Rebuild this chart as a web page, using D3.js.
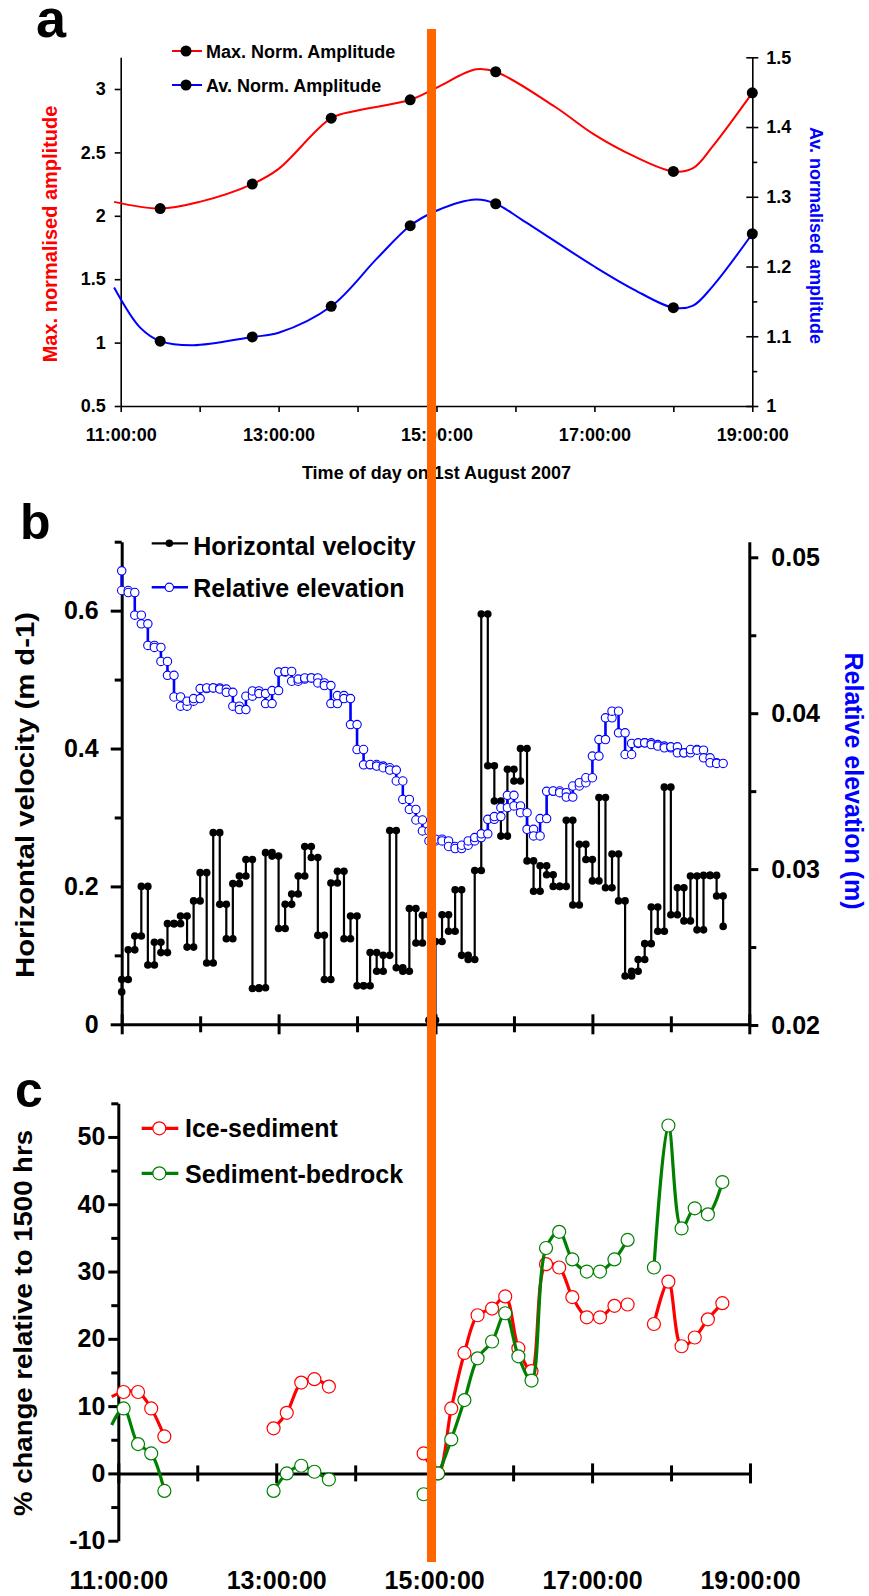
<!DOCTYPE html>
<html lang="en">
<head>
<meta charset="UTF-8">
<title>Amplitude, velocity and interface change - 1 August 2007</title>
<script src="https://cdn.jsdelivr.net/npm/d3@7/dist/d3.min.js"></script>
<style>
  body { margin: 0; background: #fff; }
  svg { display: block; }
  text { font-family: "Liberation Sans", Arial, Helvetica, sans-serif; font-weight: bold; }
</style>
</head>
<body>
<svg id="fig" width="869" height="1596"></svg>
<script>
// ---------- panel a : normalised amplitude ----------
// knots of the smoothed curves
let maxCurveTimes = ["10:55", "11:30", "12:00", "12:40", "13:00", "13:40", "14:00", "14:40", "15:00", "15:30", "15:45", "16:30", "17:00", "17:30", "18:00", "18:15", "18:30", "19:00"];
let maxCurve = [2.11, 2.057, 2.11, 2.25, 2.37, 2.77, 2.83, 2.915, 3.01, 3.155, 3.136, 2.86, 2.64, 2.47, 2.35, 2.376, 2.55, 2.97];
let avCurveTimes = ["10:55", "11:15", "11:30", "11:55", "12:40", "13:00", "13:40", "14:15", "14:40", "15:00", "15:30", "15:45", "16:05", "17:00", "17:30", "18:00", "18:15", "18:30", "19:00"];
let avCurve = [1.17, 1.112, 1.093, 1.087, 1.099, 1.105, 1.143, 1.212, 1.2585, 1.28, 1.296, 1.29, 1.267, 1.2, 1.167, 1.141, 1.144, 1.172, 1.247];
// sample dots
let dotTimes = ["11:30", "12:40", "13:40", "14:40", "15:45", "18:00", "19:00"];
let maxDots = [2.057, 2.25, 2.77, 2.915, 3.136, 2.35, 2.97];
let avDots = [1.093, 1.099, 1.143, 1.2585, 1.29, 1.141, 1.247];

// ---------- panel b : 5-minute GPS solutions from 11:00 ----------
let stepMinutes = 5;
let velStart = 0.047;
let velocity = [0.065, 0.108, 0.128, 0.2, 0.086, 0.119, 0.104, 0.146, 0.146, 0.157,
  0.112, 0.179, 0.22, 0.089, 0.278, 0.174, 0.124, 0.204, 0.215, 0.239,
  0.052, 0.053, 0.249, 0.244, 0.139, 0.174, 0.189, 0.215, 0.258, 0.242,
  0.129, 0.065, 0.205, 0.222, 0.124, 0.157, 0.056, 0.056, 0.104, 0.077,
  0.1, 0.281, 0.082, 0.077, 0.168, 0.118, 0.158, 0.006, 0.12, 0.159,
  0.135, 0.195, 0.1, 0.094, 0.223, 0.595, 0.375, 0.324, 0.273, 0.37,
  0.353, 0.4, 0.237, 0.193, 0.23, 0.217, 0.2, 0.2, 0.296, 0.173,
  0.261, 0.239, 0.208, 0.329, 0.198, 0.247, 0.179, 0.07, 0.077, 0.094,
  0.117, 0.17, 0.135, 0.344, 0.159, 0.198, 0.15, 0.215, 0.137, 0.216,
  0.216, 0.186];
let velEnd = 0.142;
let elevStart = 0.04913;
let elevation = [0.04787, 0.04774, 0.04629, 0.04573, 0.04435, 0.04422, 0.04332, 0.04243, 0.04104, 0.04045,
  0.04077, 0.04094, 0.04158, 0.04162, 0.04162, 0.04155, 0.04134, 0.04045, 0.04023, 0.04109,
  0.04143, 0.04126, 0.04062, 0.04145, 0.04264, 0.04268, 0.04205, 0.04219, 0.04226, 0.04226,
  0.04194, 0.04177, 0.04062, 0.04113, 0.04094, 0.03927, 0.03767, 0.03669, 0.03671, 0.03661,
  0.0365, 0.03635, 0.03565, 0.03447, 0.03383, 0.03315, 0.03245, 0.03181, 0.03192, 0.03181,
  0.03145, 0.03132, 0.03153, 0.03181, 0.03202, 0.03226, 0.03319, 0.03337, 0.03394, 0.03473,
  0.03405, 0.03362, 0.03255, 0.03213, 0.03324, 0.03499, 0.03501, 0.0349, 0.03462, 0.03533,
  0.03554, 0.03586, 0.03725, 0.03831, 0.0397, 0.04013, 0.03874, 0.03735, 0.03806, 0.0381,
  0.0381, 0.03799, 0.03789, 0.03778, 0.03784, 0.03746, 0.03746, 0.03767, 0.03763, 0.03714,
  0.03682, 0.03678];

// ---------- panel c : % change relative to 1500 hrs ----------
let cTimes = ["10:55", "11:04", "11:15", "11:25", "11:35", "12:15",
  "12:58", "13:08", "13:19", "13:29", "13:40", "14:15",
  "14:52", "15:03", "15:13", "15:23", "15:33", "15:44", "15:54", "16:04", "16:14",
  "16:25", "16:35", "16:45", "16:56", "17:06", "17:17", "17:27", "17:37",
  "17:47", "17:58", "18:08", "18:18", "18:28", "18:39"];
let iceSediment = [11.4, 12.1, 12.1, 9.65, 5.5, null,
  6.7, 9.0, 13.5, 14.0, 12.9, null,
  2.97, 0, 9.65, 17.9, 23.5, 24.5, 26.3, 18.6, 15.2,
  31.1, 30.6, 26.2, 23.2, 23.2, 24.9, 25.1, null,
  22.2, 28.5, 18.9, 20.2, 22.9, 25.3];
let sedimentBedrock = [7.2, 9.65, 4.36, 2.97, -2.6, null,
  -2.6, 0, 1.14, 0.25, -0.9, null,
  -3.1, 0, 5.05, 10.9, 17.1, 19.6, 23.8, 17.4, 13.8,
  33.5, 35.9, 31.8, 30.0, 30.0, 31.8, 34.7, null,
  30.6, 51.7, 36.4, 39.4, 38.5, 43.3];

let markerTime = "14:58";   // the orange reference line

// ---------- helpers ----------
function mins(s) {
    let p = s.split(':');
    return (+p[0] - 11) * 60 + (+p[1]);
}
let hourFmt = d => (11 + d / 60) + ':00:00';
let hours = d3.range(0, 481, 60);

function tidy(g, w) {
    g.attr('font-size', null).attr('font-family', null);
    g.selectAll('path, line').attr('stroke-width', w);
    return g;
}

let svg = d3.select('#fig');

// =====================================================================
// panel a
// =====================================================================
let xA = d3.scaleLinear().domain([0, 480]).range([120.7, 752.3]);
let yA = d3.scaleLinear().domain([0.5, 3.25]).range([406, 57.3]);
let yA2 = d3.scaleLinear().domain([1, 1.5]).range([406, 57.3]);

let gA = svg.append('g').style('font-size', '18px');

tidy(gA.append('g').attr('transform', `translate(${xA(0)},0)`)
    .call(d3.axisLeft(yA).tickValues([0.5, 1, 1.5, 2, 2.5, 3]).tickSize(6).tickSizeOuter(0)
        .tickPadding(9).tickFormat(d => d)), 1.6);

let rA = gA.append('g').attr('transform', `translate(${xA(480)},0)`);
rA.call(d3.axisRight(yA2).tickValues([1, 1.1, 1.2, 1.3, 1.4, 1.5]).tickSize(6).tickSizeOuter(0)
    .tickPadding(8).tickFormat(d => d));
rA.selectAll('.tick line').attr('x1', -6);
tidy(rA, 1.6);
tidy(gA.append('g').attr('transform', `translate(${xA(480)},0)`)
    .call(d3.axisRight(yA2).tickValues([1.05, 1.15, 1.25, 1.35, 1.45]).tickSize(5).tickFormat('')), 1.6)
    .select('.domain').remove();

tidy(gA.append('g').attr('transform', `translate(0,${yA(0.5)})`)
    .call(d3.axisBottom(xA).tickValues(hours).tickSize(6).tickSizeOuter(0).tickPadding(16)
        .tickFormat(d => d % 120 === 0 ? hourFmt(d) : '')), 1.6);

let smooth = d3.curveCatmullRom.alpha(0.5);
let lineMax = d3.line().x(d => xA(mins(d[0]))).y(d => yA(d[1])).curve(smooth);
let lineAv = d3.line().x(d => xA(mins(d[0]))).y(d => yA2(d[1])).curve(smooth);

gA.append('path').attr('d', lineMax(d3.zip(maxCurveTimes, maxCurve)))
    .attr('fill', 'none').attr('stroke', '#ff0000').attr('stroke-width', 2);
gA.append('path').attr('d', lineAv(d3.zip(avCurveTimes, avCurve)))
    .attr('fill', 'none').attr('stroke', '#0000ff').attr('stroke-width', 2);

gA.selectAll('.dmax').data(d3.zip(dotTimes, maxDots)).join('circle')
    .attr('cx', d => xA(mins(d[0]))).attr('cy', d => yA(d[1])).attr('r', 5.5).attr('fill', '#000');
gA.selectAll('.dav').data(d3.zip(dotTimes, avDots)).join('circle')
    .attr('cx', d => xA(mins(d[0]))).attr('cy', d => yA2(d[1])).attr('r', 5.5).attr('fill', '#000');

// legend a
[['Max. Norm. Amplitude', '#ff0000', 51], ['Av. Norm. Amplitude', '#0000ff', 85]].forEach(([t, c, y]) => {
    gA.append('line').attr('x1', 172).attr('x2', 202).attr('y1', y).attr('y2', y)
        .attr('stroke', c).attr('stroke-width', 2);
    gA.append('circle').attr('cx', 186).attr('cy', y).attr('r', 5.5).attr('fill', '#000');
    gA.append('text').attr('x', 206).attr('y', y + 6.5).text(t);
});

gA.append('text').attr('transform', 'translate(57,234) rotate(-90)').attr('text-anchor', 'middle')
    .style('font-size', '20px').attr('fill', '#ff0000').text('Max. normalised amplitude');
gA.append('text').attr('transform', 'translate(810,235.5) rotate(90)').attr('text-anchor', 'middle')
    .style('font-size', '18px').attr('fill', '#0000ff').text('Av. normalised amplitude');
gA.append('text').attr('x', xA(240)).attr('y', 479).attr('text-anchor', 'middle')
    .text('Time of day on 1st August 2007');
svg.append('text').attr('x', 36).attr('y', 37).style('font-size', '54px').text('a');

// =====================================================================
// panel b
// =====================================================================
let xB = d3.scaleLinear().domain([0, 480]).range([121.7, 749.3]);
let yB = d3.scaleLinear().domain([0, 0.7]).range([1024.3, 541.7]);
let yB2 = d3.scaleLinear().domain([0.02, 0.051]).range([1025, 541.7]);

let gB = svg.append('g').style('font-size', '25px');

tidy(gB.append('g').attr('transform', `translate(${xB(0)},0)`)
    .call(d3.axisLeft(yB).tickValues([0, 0.2, 0.4, 0.6]).tickSize(11).tickSizeOuter(0)
        .tickPadding(12).tickFormat(d => d)), 3);
tidy(gB.append('g').attr('transform', `translate(${xB(0)},0)`)
    .call(d3.axisLeft(yB).tickValues([0.1, 0.3, 0.5, 0.7]).tickSize(7).tickSizeOuter(0).tickFormat('')), 3)
    .select('.domain').remove();

tidy(gB.append('g').attr('transform', `translate(${xB(480)},0)`)
    .call(d3.axisRight(yB2).tickValues([0.02, 0.03, 0.04, 0.05]).tickSize(9).tickSizeOuter(0)
        .tickPadding(13).tickFormat(d => d)), 3);
tidy(gB.append('g').attr('transform', `translate(${xB(480)},0)`)
    .call(d3.axisRight(yB2).tickValues([0.025, 0.035, 0.045]).tickSize(7).tickSizeOuter(0).tickFormat('')), 3)
    .select('.domain').remove();

let bx = gB.append('g').attr('transform', `translate(0,${yB(0)})`)
    .call(d3.axisBottom(xB).tickValues(hours).tickSize(10).tickSizeOuter(0).tickFormat(''));
bx.selectAll('.tick line').attr('y1', d => d % 120 === 0 ? -10 : -8).attr('y2', d => d % 120 === 0 ? 10 : 8);
tidy(bx, 3);

// step series: each 5-min value is held over its interval, a dot at both ends
function stepPoints(start, vals, end) {
    let pts = [[0, start]];
    vals.forEach((v, i) => { pts.push([i * stepMinutes, v]); pts.push([(i + 1) * stepMinutes, v]); });
    if (end !== null) pts.push([vals.length * stepMinutes, end]);
    return pts;
}
let velPts = stepPoints(velStart, velocity, velEnd);
let elevPts = stepPoints(elevStart, elevation, null);

gB.append('path').attr('d', d3.line().x(d => xB(d[0])).y(d => yB(d[1]))(velPts))
    .attr('fill', 'none').attr('stroke', '#000').attr('stroke-width', 2.2);
gB.selectAll('.vdot').data(velPts).join('circle')
    .attr('cx', d => xB(d[0])).attr('cy', d => yB(d[1])).attr('r', 3.8).attr('fill', '#000');

gB.append('path').attr('d', d3.line().x(d => xB(d[0])).y(d => yB2(d[1]))(elevPts))
    .attr('fill', 'none').attr('stroke', '#0000ff').attr('stroke-width', 2.6);
gB.selectAll('.edot').data(elevPts).join('circle')
    .attr('cx', d => xB(d[0])).attr('cy', d => yB2(d[1])).attr('r', 4.2)
    .attr('fill', '#fff').attr('stroke', '#0000ff').attr('stroke-width', 1.1);

// legend b
gB.append('line').attr('x1', 151.7).attr('x2', 188).attr('y1', 543.3).attr('y2', 543.3)
    .attr('stroke', '#000').attr('stroke-width', 2.2);
gB.append('circle').attr('cx', 169.3).attr('cy', 543.3).attr('r', 3.8).attr('fill', '#000');
gB.append('text').attr('x', 193.3).attr('y', 555).text('Horizontal velocity');
gB.append('line').attr('x1', 151.7).attr('x2', 188).attr('y1', 587.3).attr('y2', 587.3)
    .attr('stroke', '#0000ff').attr('stroke-width', 2.6);
gB.append('circle').attr('cx', 169.3).attr('cy', 587.3).attr('r', 4.2)
    .attr('fill', '#fff').attr('stroke', '#0000ff').attr('stroke-width', 1.1);
gB.append('text').attr('x', 193.3).attr('y', 596.7).text('Relative elevation');

gB.append('text').attr('transform', 'translate(34,795) rotate(-90)').attr('text-anchor', 'middle')
    .style('font-size', '26px').attr('textLength', 366).attr('lengthAdjust', 'spacingAndGlyphs')
    .text('Horizontal velocity (m d-1)');
gB.append('text').attr('transform', 'translate(845,781) rotate(90)').attr('text-anchor', 'middle')
    .attr('fill', '#0000ff').text('Relative elevation (m)');
svg.append('text').attr('x', 20).attr('y', 539).style('font-size', '50px').text('b');

// =====================================================================
// panel c
// =====================================================================
let xC = d3.scaleLinear().domain([0, 480]).range([118.3, 750]);
let yC = d3.scaleLinear().domain([-10, 55]).range([1540.7, 1103.3]);

let gC = svg.append('g').style('font-size', '25px');

tidy(gC.append('g').attr('transform', `translate(${xC(0)},0)`)
    .call(d3.axisLeft(yC).tickValues(d3.range(-10, 51, 10)).tickSize(10).tickSizeOuter(0)
        .tickPadding(3).tickFormat(d => d)), 3);
tidy(gC.append('g').attr('transform', `translate(${xC(0)},0)`)
    .call(d3.axisLeft(yC).tickValues(d3.range(-5, 56, 10)).tickSize(7).tickSizeOuter(0).tickFormat('')), 3)
    .select('.domain').remove();

let cx0 = gC.append('g').attr('transform', `translate(0,${yC(0)})`)
    .call(d3.axisBottom(xC).tickValues(hours).tickSize(10).tickSizeOuter(0).tickFormat(''));
cx0.selectAll('.tick line').attr('y1', d => d % 120 === 0 ? -10 : -8).attr('y2', d => d % 120 === 0 ? 10 : 8);
tidy(cx0, 3);

let cLabels = gC.append('g').attr('transform', `translate(0,${yC(-10)})`)
    .call(d3.axisBottom(xC).tickValues(d3.range(0, 481, 120)).tickSize(0).tickPadding(31).tickFormat(hourFmt));
tidy(cLabels, 0).select('.domain').remove();

function drawC(vals, color) {
    let pts = d3.zip(cTimes.map(mins), vals);
    gC.append('path')
        .attr('d', d3.line().defined(d => d[1] !== null).x(d => xC(d[0])).y(d => yC(d[1]))
            .curve(d3.curveCatmullRom.alpha(0.5))(pts))
        .attr('fill', 'none').attr('stroke', color).attr('stroke-width', 3.2);
    gC.append('g').selectAll('circle').data(pts.filter(d => d[1] !== null && d[0] >= 0)).join('circle')
        .attr('cx', d => xC(d[0])).attr('cy', d => yC(d[1])).attr('r', 6.5)
        .attr('fill', '#fff').attr('stroke', color).attr('stroke-width', 1.2);
}
drawC(iceSediment, '#ff0000');
drawC(sedimentBedrock, '#008000');

// legend c
[['Ice-sediment', '#ff0000', 1128.3, 1137.3], ['Sediment-bedrock', '#008000', 1173.3, 1182.7]].forEach(([t, c, y, yt]) => {
    gC.append('line').attr('x1', 141.7).attr('x2', 178.3).attr('y1', y).attr('y2', y)
        .attr('stroke', c).attr('stroke-width', 3.2);
    gC.append('circle').attr('cx', 159.3).attr('cy', y).attr('r', 6.5)
        .attr('fill', '#fff').attr('stroke', c).attr('stroke-width', 1.2);
    gC.append('text').attr('x', 185).attr('y', yt).text(t);
});

gC.append('text').attr('transform', 'translate(32,1323) rotate(-90)').attr('text-anchor', 'middle')
    .style('font-size', '26px').attr('textLength', 386).attr('lengthAdjust', 'spacingAndGlyphs')
    .text('% change relative to 1500 hrs');
svg.append('text').attr('x', 15).attr('y', 1107).style('font-size', '50px').text('c');

// =====================================================================
// orange reference line across all panels
// =====================================================================
svg.append('line').attr('x1', xC(mins(markerTime))).attr('x2', xC(mins(markerTime)))
    .attr('y1', 29).attr('y2', 1562).attr('stroke', '#ff6600').attr('stroke-width', 9);
</script>
</body>
</html>
